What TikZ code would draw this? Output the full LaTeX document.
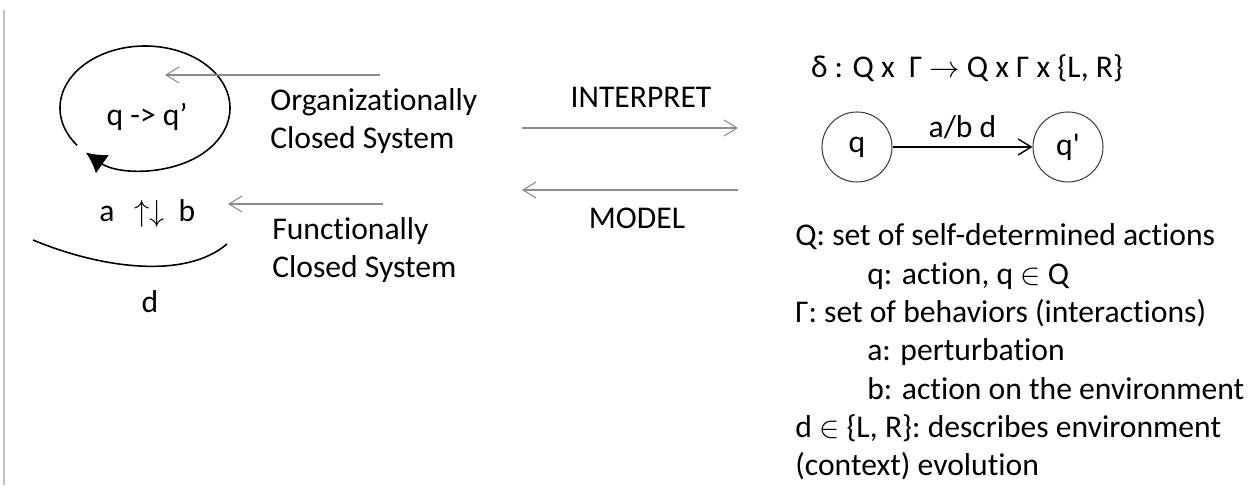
\documentclass[tikz,border=0pt]{standalone}
\usepackage{fontspec}
\setmainfont{Carlito}[Ligatures={TeX,NoCommon}]
\usetikzlibrary{arrows.meta}

\begin{document}
\begin{tikzpicture}[x=0.02cm, y=-0.02cm,
        txt/.style={font=\fontsize{18}{21.8}\selectfont, inner sep=0pt},
        grey arrow/.style={draw=black!45, line width=0.6pt, -{Straight Barb[length=2.6mm, width=3.2mm]}},
        state/.style={circle, draw=black!75, line width=0.6pt, minimum size=1.4cm, inner sep=0pt, font=\fontsize{18}{21.8}\selectfont},
        loop line/.style={line width=0.9pt, -{Latex[length=4mm, width=4.5mm]}}]
        \useasboundingbox (0,0) rectangle (1259,492);
        \draw [black!25, line width=0.6pt] (4,10) -- (4,485);
        % left: the closed system
        \coordinate (cyc) at (145,108);
        \node [txt] (loop) at (147,117) {q -{}> q’};
        \draw [loop line] ([shift={(143:85 and 62)}]cyc) arc [start angle=143, end angle=494, x radius=85, y radius=62];
        \node [txt, anchor=base] (a) at (107,222) {a};
        \node [txt, anchor=base] (ab) at (150,222) {$\uparrow\downarrow$};
        \node [txt, anchor=base] (b) at (187,222) {b};
        \coordinate (c1) at (33,240);
        \coordinate (c2) at (227,244);
        \draw [line width=0.9pt] (c1) .. controls (100,268) and (185,280) .. (c2);
        \node [txt] (d) at (150,302) {d};
        \node [txt, align=left, anchor=west] (org) at (270,121) {Organizationally\\Closed System};
        \node [txt, align=left, anchor=west] (fun) at (272,250) {Functionally\\Closed System};
        \coordinate (o1) at (380,75);
        \coordinate (o2) at (165,75);
        \coordinate (f1) at (383,204);
        \coordinate (f2) at (228,204);
        \draw [grey arrow] (o1) -- (o2);
        \draw [grey arrow] (f1) -- (f2);
        % middle
        \node [txt] (interp) at (641,97) {INTERPRET};
        \node [txt] (model) at (637,218) {MODEL};
        \coordinate (i1) at (522,128);
        \coordinate (i2) at (738,128);
        \coordinate (m1) at (738,190);
        \coordinate (m2) at (522,190);
        \draw [grey arrow] (i1) -- (i2);
        \draw [grey arrow] (m1) -- (m2);
        % right: the machine
        \node [txt] (delta) at (967,68) {δ : Q x\ \ Γ $\rightarrow$ Q x Γ x \{L, R\}};
        \node [state] (q) at (857,147) {q};
        \node [state] (qp) at (1068,147) {q\textquotesingle};
        \draw [line width=0.8pt, -{Straight Barb[length=2.6mm, width=3.2mm]}] (q) -- node [txt, above=1.5mm] {a/b d} (qp);
        \node [txt, align=left, anchor=west] (defs) at (795,352) {Q: set of self-determined actions\\
                \hspace{1.44cm}q: action, q $\in$ Q\\
                Γ: set of behaviors (interactions)\\
                \hspace{1.44cm}a: perturbation\\
                \hspace{1.44cm}b: action on the environment\\
                d $\in$ \{L, R\}: describes environment\\
                (context) evolution};
\end{tikzpicture}
\end{document}
